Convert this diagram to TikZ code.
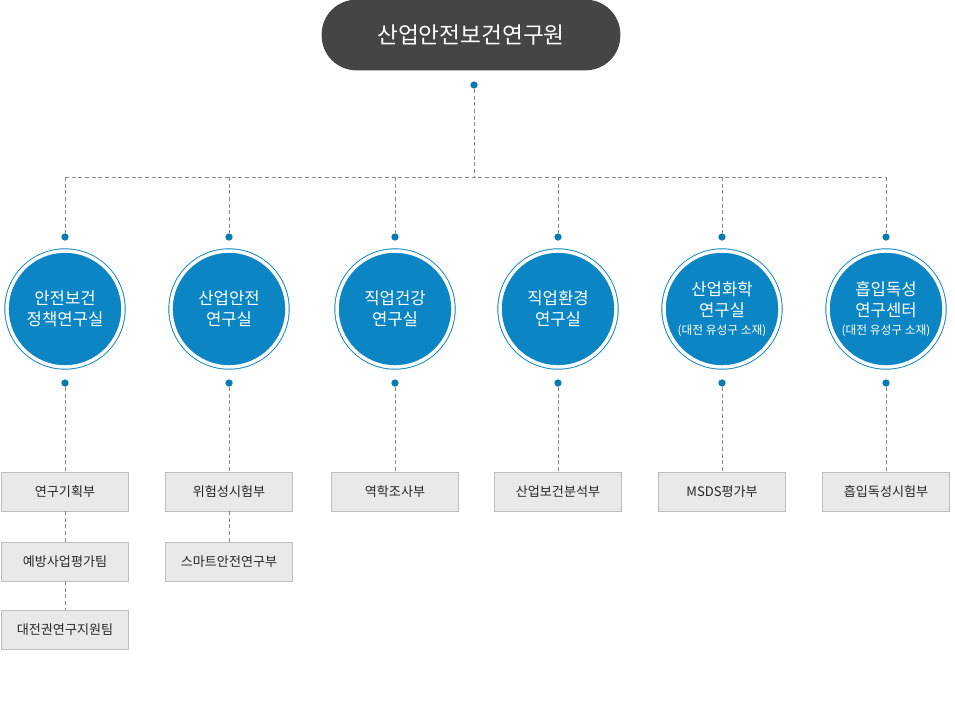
\documentclass[tikz,border=0pt]{standalone}
\usepackage{fontspec}
\setmainfont{Noto Sans CJK KR}
\definecolor{cblue}{HTML}{0B85C3}
\definecolor{dotb}{HTML}{0A7BB0}
\definecolor{pill}{HTML}{454545}
\definecolor{boxf}{HTML}{E9E9E9}
\definecolor{boxd}{HTML}{BDBDBD}
\definecolor{dl}{HTML}{8A8A8A}
\begin{document}
\begin{tikzpicture}[x=0.75pt,y=-0.75pt,
  conn/.style={draw=dl,dashed,dash pattern=on 3pt off 2pt,line width=0.6pt},
  dot/.style={circle,fill=dotb,inner sep=0pt,minimum size=5.5pt},
  lab/.style={circle,fill=cblue,text=white,minimum size=87pt,inner sep=0pt,align=center,font=\fontsize{12.5pt}{16pt}\selectfont,double=white,draw=cblue,double distance=2.6pt,line width=0.7pt},
  dept/.style={draw=boxd,fill=boxf,minimum width=95pt,minimum height=29pt,inner sep=0pt,font=\fontsize{9.8pt}{12pt}\selectfont,text=black!85}]
\useasboundingbox (0,0) rectangle (955,720);
\node[fill=pill,rounded corners=26pt,minimum width=224pt,minimum height=53pt,text=white,font=\fontsize{17pt}{20pt}\selectfont] (top) at (471,35) {산업안전보건연구원};
\node[dot] (td) at (474,85) {};
\coordinate (hub) at (474,177);
\draw[conn] (td) -- (hub);
\foreach \n/\x/\t in {a/65/{안전보건\\정책연구실},b/229/{산업안전\\연구실},c/395/{직업건강\\연구실},d/558/{직업환경\\연구실},e/722/{산업화학\\연구실\\[-3pt]{\fontsize{8.8pt}{10pt}\selectfont(대전 유성구 소재)}},f/886/{흡입독성\\연구센터\\[-3pt]{\fontsize{8.8pt}{10pt}\selectfont(대전 유성구 소재)}}}{
  \coordinate (h\n) at (\x,177);
  \node[dot] (u\n) at (\x,237) {};
  \node[lab] (c\n) at (\x,309) {\t};
  \node[dot] (l\n) at (\x,383) {};
  \draw[conn] (h\n) -- (u\n);
}
\draw[conn] (ha) -- (hf);
\node[dept] (a1) at (65,491.5) {연구기획부};
\node[dept] (a2) at (65,561.5) {예방사업평가팀};
\node[dept] (a3) at (65,629.5) {대전권연구지원팀};
\node[dept] (b1) at (229,491.5) {위험성시험부};
\node[dept] (b2) at (229,561.5) {스마트안전연구부};
\node[dept] (c1) at (395,491.5) {역학조사부};
\node[dept] (d1) at (558,491.5) {산업보건분석부};
\node[dept] (e1) at (722,491.5) {MSDS평가부};
\node[dept] (f1) at (886,491.5) {흡입독성시험부};
\draw[conn] (la) -- (a1); \draw[conn] (a1) -- (a2); \draw[conn] (a2) -- (a3);
\draw[conn] (lb) -- (b1); \draw[conn] (b1) -- (b2);
\draw[conn] (lc) -- (c1); \draw[conn] (ld) -- (d1);
\draw[conn] (le) -- (e1); \draw[conn] (lf) -- (f1);
\end{tikzpicture}
\end{document}
